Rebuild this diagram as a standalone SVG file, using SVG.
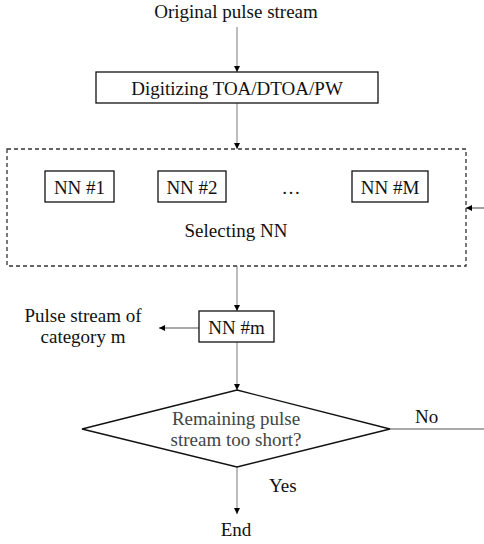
<svg xmlns="http://www.w3.org/2000/svg" width="484" height="544" viewBox="0 0 484 544">
  <style>
    text { font-family: "Liberation Serif", "Times New Roman", serif; font-size: 19px; fill: #111; }
    .mid { text-anchor: middle; }
    .grey { fill: #444; }
    .box { fill: #fff; stroke: #111; stroke-width: 1.3; }
    .dash { fill: none; stroke: #333; stroke-width: 1.3; stroke-dasharray: 4 3; }
    .v { fill: none; stroke: #999; stroke-width: 1.3; }
    .h { fill: none; stroke: #555; stroke-width: 1.1; }
  </style>
  <defs>
    <marker id="arrow" viewBox="0 0 10 10" refX="10" refY="5" markerWidth="6" markerHeight="6" markerUnits="userSpaceOnUse" orient="auto">
      <path d="M0,0 L10,5 L0,10 Z" fill="#000"/>
    </marker>
  </defs>

  <!-- connectors -->
  <g id="connectors">
    <line class="v" x1="237" y1="27" x2="237" y2="72" marker-end="url(#arrow)"/>
    <line class="v" x1="237" y1="103" x2="237" y2="149" marker-end="url(#arrow)"/>
    <line class="v" x1="237" y1="266" x2="237" y2="311" marker-end="url(#arrow)"/>
    <line class="h" x1="199" y1="328" x2="159" y2="328" marker-end="url(#arrow)"/>
    <line class="v" x1="237" y1="342" x2="237" y2="390" marker-end="url(#arrow)"/>
    <line class="v" x1="237" y1="467" x2="237" y2="514" marker-end="url(#arrow)"/>
    <line class="h" x1="390" y1="429" x2="484" y2="429"/>
    <line class="h" x1="484" y1="208" x2="466" y2="208" marker-end="url(#arrow)"/>
    <text x="415" y="423">No</text>
    <text x="269" y="492">Yes</text>
  </g>

  <g id="start">
    <text class="mid" x="236" y="18">Original pulse stream</text>
  </g>

  <g id="digitize">
    <rect class="box" x="96" y="72" width="282" height="31"/>
    <text class="mid" x="237" y="95">Digitizing TOA/DTOA/PW</text>
  </g>

  <g id="select">
    <rect class="dash" x="7" y="149" width="459" height="117"/>
    <text class="mid" x="236" y="237">Selecting NN</text>
  </g>

  <g id="nn1">
    <rect class="box" x="45" y="171" width="69" height="31"/>
    <text class="mid" x="79.5" y="194">NN #1</text>
  </g>

  <g id="nn2">
    <rect class="box" x="158" y="171" width="68" height="31"/>
    <text class="mid" x="192" y="194">NN #2</text>
  </g>

  <g id="ellipsis">
    <text class="mid" x="291" y="194">…</text>
  </g>

  <g id="nnM">
    <rect class="box" x="352" y="171" width="76" height="31"/>
    <text class="mid" x="390" y="194">NN #M</text>
  </g>

  <g id="nnm">
    <rect class="box" x="199" y="311" width="75" height="31"/>
    <text class="mid" x="236.5" y="334">NN #m</text>
  </g>

  <g id="output">
    <text class="mid" x="83" y="322">Pulse stream of</text>
    <text class="mid" x="83" y="343">category m</text>
  </g>

  <g id="decision">
    <polygon class="box" points="237,390 390,429 237,467 82,429"/>
    <text class="mid grey" x="236" y="425">Remaining pulse</text>
    <text class="mid grey" x="236" y="446">stream too short?</text>
  </g>

  <g id="end">
    <text class="mid" x="236" y="536">End</text>
  </g>
</svg>
